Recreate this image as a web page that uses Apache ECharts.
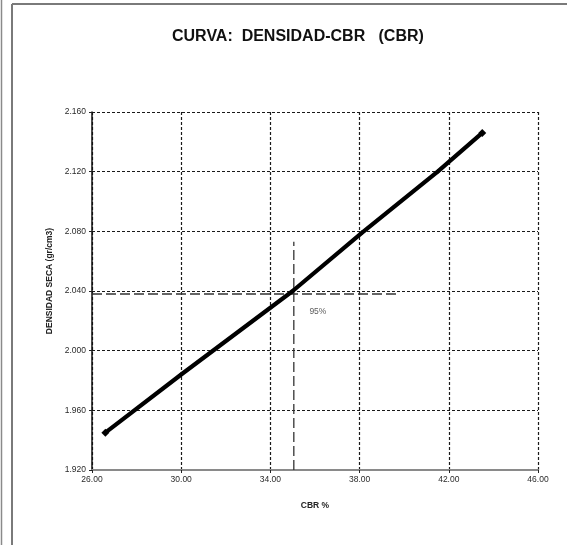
<!DOCTYPE html>
<html>
<head>
<meta charset="utf-8">
<script src="https://cdn.jsdelivr.net/npm/echarts@6/dist/echarts.min.js"></script>
<style>
  html, body { margin: 0; padding: 0; background: #fff; }
  #chart { width: 567px; height: 545px; }
</style>
</head>
<body>
<div id="chart"></div>
<script>
// Density vs CBR curve
const cbrValues = [26.6, 30.0, 35.0, 38.1, 41.5, 43.5];
const densityValues = [1.945, 1.984, 2.040, 2.079, 2.120, 2.146];

// 95% reference lines
const refCbr = 35.05;
const refDensity = 2.038;
const refVerticalTop = 2.073;
const refHorizontalEnd = 39.7;
const refLabel = '95%';
const refLabelPos = [36.13, 2.026];

// Axis settings
const xMin = 26, xMax = 46, xStep = 4;
const yMin = 1.92, yMax = 2.16, yStep = 0.04;

const titleText = 'CURVA:  DENSIDAD-CBR   (CBR)';
const xName = 'CBR %';
const yName = 'DENSIDAD SECA (gr/cm3)';

const curve = cbrValues.map((c, i) => [c, densityValues[i]]);
const refV = [[refCbr, yMin], [refCbr, refVerticalTop]];
const refH = [[xMin, refDensity], [refHorizontalEnd, refDensity]];

const chart = echarts.init(document.getElementById('chart'), null, { renderer: 'canvas' });

const gridDash = { color: '#1a1a1a', width: 1.2, type: [3, 2] };
const labelFont = { fontFamily: 'Liberation Sans', fontSize: 8.5, color: '#2a2a2a' };

chart.setOption({
  animation: false,
  backgroundColor: '#ffffff',
  title: {
    text: titleText,
    left: 167,
    top: 24,
    textStyle: { fontFamily: 'Liberation Sans', fontSize: 16, fontWeight: 'bold', color: '#111' }
  },
  grid: { left: 92, right: 29, top: 112, bottom: 75, containLabel: false },
  xAxis: {
    type: 'value',
    min: xMin, max: xMax, interval: xStep,
    name: xName,
    nameLocation: 'middle',
    nameGap: 31,
    nameTextStyle: { fontFamily: 'Liberation Sans', fontSize: 8.5, fontWeight: 'bold', color: '#222' },
    axisLine: { show: true, onZero: false, lineStyle: { color: '#8a8a8a', width: 2 } },
    axisTick: { show: true, length: 3, lineStyle: { color: '#222', width: 1 } },
    axisLabel: Object.assign({ margin: 5, formatter: v => v.toFixed(2) }, labelFont),
    splitLine: { show: true, lineStyle: gridDash }
  },
  yAxis: {
    type: 'value',
    min: yMin, max: yMax, interval: yStep,
    name: yName,
    nameLocation: 'middle',
    nameGap: 31,
    nameTextStyle: { fontFamily: 'Liberation Sans', fontSize: 8.5, fontWeight: 'bold', color: '#222', padding: [0, 0, 0, 20] },
    axisLine: { show: true, onZero: false, lineStyle: { color: '#111', width: 1.5 } },
    axisTick: { show: true, length: 3, lineStyle: { color: '#222', width: 1 } },
    axisLabel: Object.assign({ margin: 6, formatter: v => v.toFixed(3) }, labelFont),
    splitLine: { show: true, lineStyle: gridDash }
  },
  series: [
    {
      name: 'ref-vertical',
      type: 'line',
      data: refV,
      symbol: 'none',
      silent: true,
      lineStyle: { color: '#333', width: 1.3, type: [10, 4] },
      z: 3
    },
    {
      name: 'ref-horizontal',
      type: 'line',
      data: refH,
      symbol: 'none',
      silent: true,
      lineStyle: { color: '#333', width: 1.3, type: [10, 4] },
      z: 3
    },
    {
      name: 'curve',
      type: 'line',
      data: curve,
      symbol: 'diamond',
      symbolSize: (val, params) => (params.dataIndex === 0 || params.dataIndex === cbrValues.length - 1) ? 8 : 5,
      showSymbol: true,
      itemStyle: { color: '#000' },
      lineStyle: { color: '#000', width: 4.2 },
      z: 5
    },
    {
      name: 'ref-label',
      type: 'scatter',
      data: [refLabelPos],
      symbolSize: 0,
      silent: true,
      label: {
        show: true,
        position: 'inside',
        formatter: refLabel,
        fontFamily: 'Liberation Sans',
        fontSize: 8.5,
        color: '#333'
      }
    }
  ],
  graphic: [
    { type: 'line', shape: { x1: 1.5, y1: 0, x2: 1.5, y2: 545 }, style: { stroke: '#8a8a8a', lineWidth: 1.5 } },
    { type: 'line', shape: { x1: 12, y1: 4, x2: 12, y2: 545 }, style: { stroke: '#7a7a7a', lineWidth: 2 } },
    { type: 'line', shape: { x1: 12, y1: 4, x2: 567, y2: 4 }, style: { stroke: '#7a7a7a', lineWidth: 2 } }
  ]
});
</script>
</body>
</html>
